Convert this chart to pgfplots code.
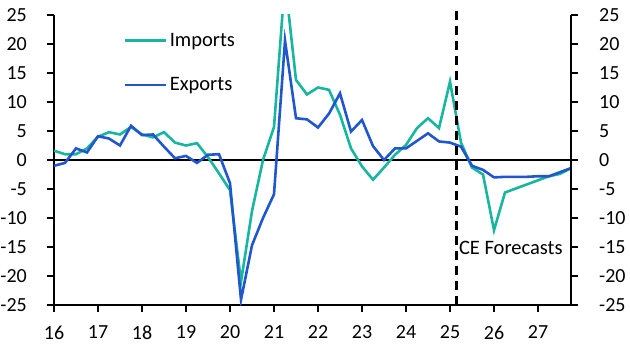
\documentclass[border=0pt]{standalone}
\usepackage{pgfplots}
\pgfplotsset{compat=1.18}
\usepackage{fontspec}
\setmainfont{Carlito}
\definecolor{imp}{RGB}{24,182,160}
\definecolor{exp}{RGB}{33,87,204}
\pgfplotstableread{
x imp exp
16.00 1.6 -1.0
16.25 1.0 -0.5
16.50 1.0 2.0
16.75 2.0 1.3
17.00 4.0 4.1
17.25 4.8 3.7
17.50 4.4 2.5
17.75 5.7 5.9
18.00 4.4 4.3
18.25 3.9 4.4
18.50 4.8 2.3
18.75 3.0 0.3
19.00 2.5 0.7
19.25 2.9 -0.5
19.50 0.5 0.9
19.75 -2.3 1.0
20.00 -5.2 -4.0
20.25 -21.0 -24.1
20.50 -8.8 -14.7
20.75 0.0 -10.0
21.00 5.7 -5.9
21.25 31.0 20.6
21.50 13.8 7.2
21.75 11.3 7.0
22.00 12.5 5.6
22.25 12.1 8.0
22.50 7.8 11.5
22.75 2.0 4.9
23.00 -1.1 6.9
23.25 -3.4 2.4
23.50 -1.3 0.0
23.75 0.9 2.0
24.00 2.6 2.0
24.25 5.5 3.3
24.50 7.2 4.6
24.75 5.5 3.2
25.00 13.5 3.0
25.25 3.0 2.3
25.50 -1.3 -1.0
25.75 -2.5 -1.7
26.00 -12.1 -3.0
26.25 -5.6 -2.9
26.50 -4.9 -2.9
26.75 -4.2 -2.9
27.00 -3.5 -2.8
27.25 -2.8 -2.8
27.50 -2.4 -2.1
27.75 -1.4 -1.4
}\datatable
\begin{document}
\begin{tikzpicture}[x=1bp,y=1bp]
\path[use as bounding box] (0,0) rectangle (630,354);
\pgfplotsset{
  myaxis/.style={
    at={(54bp,49bp)}, anchor=south west,
    scale only axis, width=517bp, height=290bp,
    xmin=16, xmax=27.75, ymin=-25, ymax=25,
    ytick={-25,-20,...,25},
    xtick={16,...,27},
    tick style={black, line width=2.2bp},
    major tick length=7bp,
    tick align=outside,
    axis line style={black, line width=2.8bp},
    /pgf/number format/assume math mode=true,
    tick label style={font=\fontsize{20bp}{24bp}\selectfont},
  }
}
\begin{axis}[myaxis,
  axis x line*=bottom, axis y line*=left,
  x axis line style={-}, y axis line style={-},
  every y tick label/.append style={anchor=east, inner sep=0pt, xshift=-20bp},
  xticklabel style={yshift=-10bp},
  legend style={draw=none, fill=none, at={(axis description cs:0.1296,0.945)}, anchor=north west,
    font=\fontsize{20.5bp}{24bp}\selectfont, row sep=30bp, column sep=2bp,
    nodes={inner sep=0pt}},
  legend cell align=left,
  legend image code/.code={\draw[#1] (0bp,0bp) -- (41bp,0bp);},
]
\addplot[black, line width=2.5bp, forget plot] coordinates {(16,0) (27.75,0)};
\addplot[imp, line width=2.6bp] table[x=x,y=imp] {\datatable};
\addlegendentry{Imports}
\addplot[exp, line width=2.6bp] table[x=x,y=exp] {\datatable};
\addlegendentry{Exports}
\end{axis}
\begin{axis}[myaxis,
  axis x line=none, axis y line*=right, y axis line style={-},
  every y tick label/.append style={anchor=west, inner sep=0pt, xshift=21bp},
  clip=false,
]
\addplot[black, line width=2.6bp, dash pattern=on 9bp off 6bp] coordinates {(25.15,-25) (25.15,26.4)};
\node[anchor=west, font=\fontsize{20.5bp}{24bp}\selectfont, inner sep=0pt] at (axis cs:25.2,-15.2) {CE Forecasts};
\end{axis}
\end{tikzpicture}
\end{document}
